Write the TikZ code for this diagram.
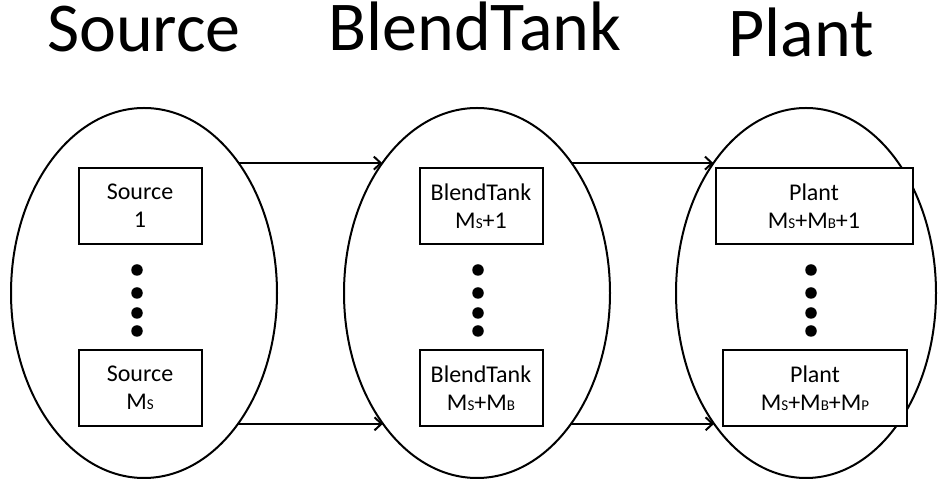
\documentclass[tikz,border=0pt]{standalone}
\usepackage{fontspec}
\setmainfont{Carlito}
\usetikzlibrary{shapes.geometric,arrows.meta}
\newcommand\smc[1]{{\fontsize{15}{15}\selectfont #1}}
\begin{document}
\begin{tikzpicture}[x=1pt,y=1pt,
  group/.style={draw,ellipse,line width=2pt,minimum width=266pt,minimum height=370pt,inner sep=0pt},
  unit/.style={draw,line width=2pt,fill=white,minimum height=76pt,inner sep=0pt,align=center,
     font=\fontsize{24}{28}\selectfont},
  title/.style={anchor=base,font=\fontsize{70}{70}\selectfont,inner sep=0pt},
  dot/.style={circle,fill=black,inner sep=0pt,minimum size=11.5pt},
  flow/.style={line width=2pt,-{Straight Barb[length=7pt,width=13pt,line width=2pt]}}]
\useasboundingbox (0,0) rectangle (938,487);
% titles
\node[title] (t1) at (144,435) {Source};
\node[title] (t2) at (475,436) {BlendTank};
\node[title] (t3) at (801,430) {Plant};
% groups
\node[group] (e1) at (144,194) {};
\node[group] (e2) at (477,194) {};
\node[group,minimum width=260pt] (e3) at (806,194) {};
% boxes
\node[unit,minimum width=123pt] (s1) at (140,281) {Source\\1};
\node[unit,minimum width=123pt] (s2) at (140,99) {Source\\M\smc{S}};
\node[unit,minimum width=123pt] (b1) at (481,281) {BlendTank\\M\smc{S}+1};
\node[unit,minimum width=123pt] (b2) at (481,99) {BlendTank\\M\smc{S}+M\smc{B}};
\node[unit,minimum width=197pt] (p1) at (814,281) {Plant\\M\smc{S}+M\smc{B}+1};
\node[unit,minimum width=184pt] (p2) at (815,99) {Plant\\M\smc{S}+M\smc{B}+M\smc{P}};
% dots
\foreach \n/\x in {s/137,b/478,p/811}{
  \node[dot] (\n d1) at (\x,217) {};
  \node[dot] (\n d2) at (\x,194) {};
  \node[dot] (\n d3) at (\x,174) {};
  \node[dot] (\n d4) at (\x,156) {};
}
% connector end points on the ellipses
\path (e1.center) ++ (44.6:133pt and 185pt) coordinate (e1tr);
\path (e1.center) ++ (-45:133pt and 185pt) coordinate (e1br);
\path (e2.center) ++ (135.4:133pt and 185pt) coordinate (e2tl);
\path (e2.center) ++ (-135:133pt and 185pt) coordinate (e2bl);
\path (e2.center) ++ (44.6:133pt and 185pt) coordinate (e2tr);
\path (e2.center) ++ (-45:133pt and 185pt) coordinate (e2br);
\path (e3.center) ++ (135.4:130pt and 185pt) coordinate (e3tl);
\path (e3.center) ++ (-135:130pt and 185pt) coordinate (e3bl);
\draw[flow] (e1tr) -- (e2tl);
\draw[flow] (e1br) -- (e2bl);
\draw[flow] (e2tr) -- (e3tl);
\draw[flow] (e2br) -- (e3bl);
\end{tikzpicture}
\end{document}
